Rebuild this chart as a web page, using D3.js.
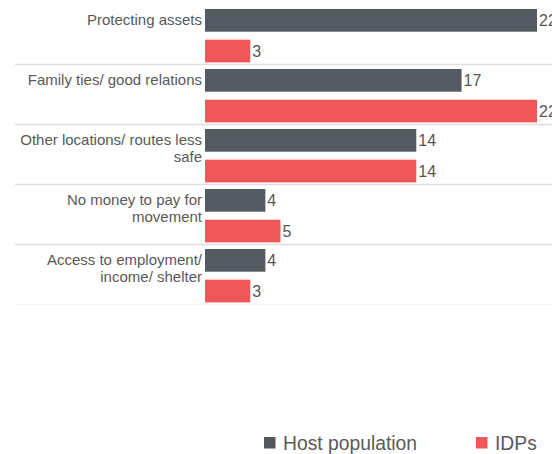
<!DOCTYPE html>
<html><head><meta charset="utf-8">
<script src="https://cdn.jsdelivr.net/npm/d3@7"></script>
<style>
html,body{margin:0;padding:0;background:#fff;}
svg{display:block;font-family:"Liberation Sans",Arial,sans-serif;}
</style></head>
<body>
<svg id="chart" width="552" height="454"></svg>
<script>
const categories = [
  ["Protecting assets"],
  ["Family ties/ good relations"],
  ["Other locations/ routes less", "safe"],
  ["No money to pay for", "movement"],
  ["Access to employment/", "income/ shelter"]
];
const seriesNames = ["Host population", "IDPs"];
const hostValues = [22, 17, 14, 4, 4];
const idpValues = [3, 22, 14, 5, 3];
const colors = ["#535a61", "#ef5758"];

const svg = d3.select("#chart");
const x = d3.scaleLinear().domain([0, 22]).range([205, 537]);
const y = d3.scaleBand().domain(d3.range(categories.length)).range([4.5, 304.5]).paddingInner(0).paddingOuter(0);
const inner = d3.scaleBand().domain([0, 1]).range([4.5, 57.9]).paddingInner(0.26).paddingOuter(0);

const data = categories.map((c, i) => ({i, label: c, vals: [hostValues[i], idpValues[i]]}));

// separators
svg.selectAll("line.sep").data(data).join("line")
  .attr("x1", 15).attr("x2", 552)
  .attr("y1", d => y(d.i) + y.bandwidth()).attr("y2", d => y(d.i) + y.bandwidth())
  .attr("stroke", (d, k) => k === data.length - 1 ? "#f2f2f2" : "#dedede")
  .attr("stroke-width", 1.5);

const g = svg.selectAll("g.grp").data(data).join("g")
  .attr("transform", d => `translate(0,${y(d.i)})`);

g.selectAll("rect").data(d => d.vals.map((v, s) => ({v, s}))).join("rect")
  .attr("x", x(0))
  .attr("y", d => inner(d.s))
  .attr("width", d => x(d.v) - x(0))
  .attr("height", inner.bandwidth())
  .attr("fill", d => colors[d.s]);

g.selectAll("text.val").data(d => d.vals.map((v, s) => ({v, s}))).join("text")
  .attr("class", "val")
  .attr("x", d => x(d.v) + 2)
  .attr("y", d => inner(d.s) + inner.bandwidth() / 2 + 5.8)
  .attr("font-size", 16).attr("fill", "#555")
  .text(d => d.v);

g.each(function(d) {
  const t = d3.select(this).append("text")
    .attr("text-anchor", "end")
    .attr("font-size", 15).attr("fill", "#595959");
  d.label.forEach((line, k) => {
    t.append("tspan").attr("x", 202)
      .attr("y", inner(0) + inner.bandwidth() / 2 + 5 + k * 16.5)
      .text(line);
  });
});

// legend
const legendX = [264, 476];
const lg = svg.selectAll("g.leg").data(seriesNames).join("g")
  .attr("transform", (d, k) => `translate(${legendX[k]},437)`);
lg.append("rect").attr("width", 11.5).attr("height", 11.5)
  .attr("fill", (d, k) => k === 0 ? "#555759" : colors[1]);
lg.append("text").attr("x", 19).attr("y", 12.5)
  .attr("font-size", 19.3).attr("fill", "#595959").text(d => d);
</script>
</body></html>
